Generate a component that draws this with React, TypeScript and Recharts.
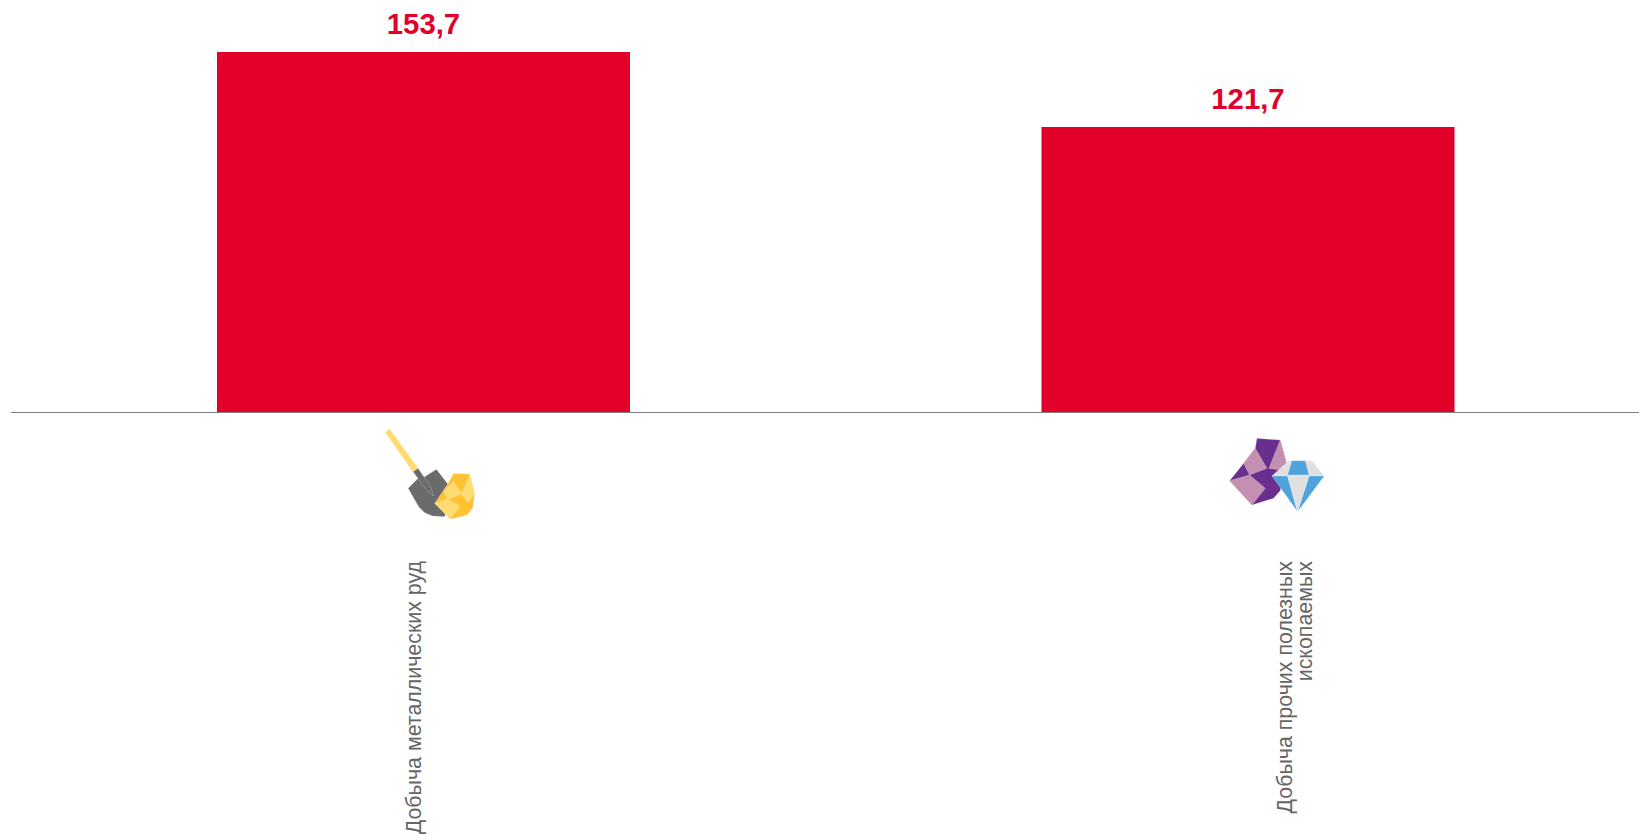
import React from "react";
import { BarChart, Bar, XAxis, YAxis, LabelList } from "recharts";

const categories = ["Добыча металлических руд", "Добыча прочих полезных ископаемых"];
const values = [153.7, 121.7];
const tickLines = [["Добыча металлических руд"], ["Добыча прочих полезных", "ископаемых"]];
const rows = categories.map((name, i) => ({ name, value: values[i] }));

const RED = "#E2002A";
const TEXT = "#666666";

type Poly = [string, string];

const shovelIcon: Poly[] = [
  ["#FFDB72", "76,97 90,86 175,205 160,217"],
  ["#6B6B6B", "145,265 178,232 192,232 230,208 272,262 255,350 218,348 195,338 178,322 165,300"],
  ["#6B6B6B", "160,215 175,205 212,258 222,288 198,268"],
  ["#FFC233", "282,220 330,222 345,280 340,322 322,345 272,358 225,310 262,255"],
  ["#FFDB72", "282,245 305,282 265,297 252,275"],
  ["#FFDB72", "330,225 345,280 326,308 305,282"],
  ["#FFDB72", "225,310 265,297 300,320 272,356"],
];

const gemIcon: Poly[] = [
  ["#6A2E8E", "140,55 210,60 228,125 210,212 190,235 125,255 58,182 100,130 135,85"],
  ["#C48FB0", "135,85 170,145 118,165 100,130"],
  ["#C48FB0", "210,60 228,125 210,150 176,145"],
  ["#C48FB0", "58,182 118,165 165,205 125,255"],
  ["#E0E0E0", "185,168 235,122 305,122 342,168"],
  ["#4FA3DC", "245,122 285,122 296,165 232,165"],
  ["#4FA3DC", "185,168 232,168 262,275"],
  ["#4FA3DC", "296,168 342,168 262,275"],
  ["#E0E0E0", "232,168 296,168 262,275"],
];

const tickLayout = [
  { icon: shovelIcon, iconX: -63.5, labelX: -9.5, iconY: 400, lineStep: 20 },
  { icon: gemIcon, iconX: -37.5, labelX: 37, iconY: 420, lineStep: 20.5 },
];

function CategoryTick({ x, payload, index }: any) {
  const layout = tickLayout[index];
  const lines = tickLines[index];
  const labelY = 561 - 412.5;
  return (
    <g>
      <g transform={`translate(${x + layout.iconX},${layout.iconY}) scale(${1 / 3})`}>
        {layout.icon.map(([fill, points], i) => (
          <polygon key={i} points={points} fill={fill} stroke="#fff" strokeOpacity={0.7} strokeWidth={1} />
        ))}
      </g>
      <text
        transform={`translate(${x + layout.labelX},412.5) rotate(-90)`}
        textAnchor="end"
        fontFamily="Liberation Sans"
        fontSize={21.4}
        fill={TEXT}
      >
        {lines.map((line: string, i: number) => (
          <tspan key={i} x={-labelY} y={i * layout.lineStep + 7}>
            {line}
          </tspan>
        ))}
      </text>
    </g>
  );
}

export default function App() {
  return (
    <div style={{ position: "absolute", left: 0, top: 0, width: 1639, height: 836, overflow: "hidden", background: "#fff" }}>
      <BarChart
        width={1660}
        height={836}
        data={rows}
        margin={{ top: 37.3, right: 0, bottom: 0, left: 11 }}
      >
        <YAxis hide domain={[0, 160]} />
        <XAxis
          dataKey="name"
          height={423.5}
          interval={0}
          tickLine={false}
          axisLine={{ stroke: "#7F7F7F", strokeWidth: 1 }}
          tick={<CategoryTick />}
        />
        <Bar dataKey="value" fill={RED} barSize={413} isAnimationActive={false}>
          <LabelList
            dataKey="value"
            position="top"
            offset={18}
            formatter={(v: any) => String(v).replace(".", ",")}
            fill={RED}
            fontFamily="Liberation Sans"
            fontWeight={700}
            fontSize={29.3}
          />
        </Bar>
      </BarChart>
    </div>
  );
}
